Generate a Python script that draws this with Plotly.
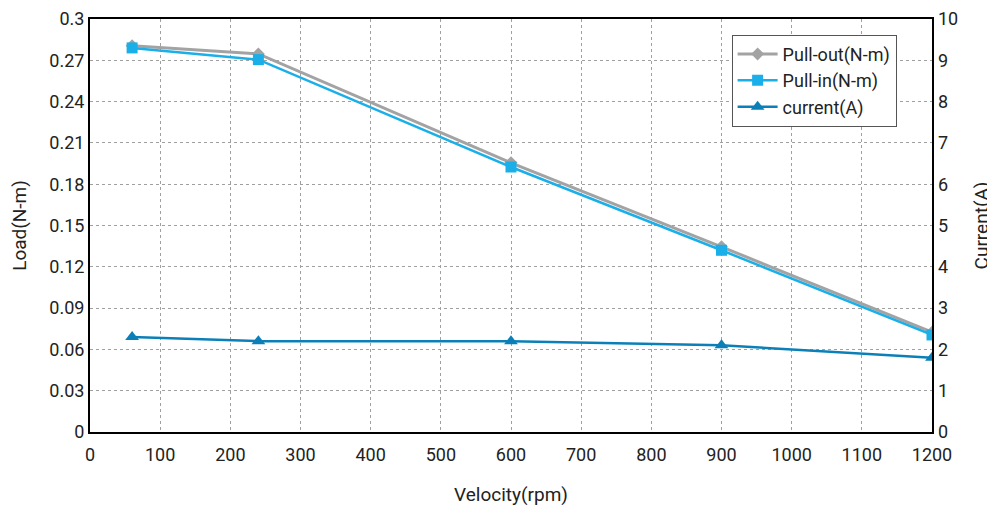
import plotly.graph_objects as go

velocity = [60, 240, 600, 900, 1200]
pull_out = [0.2805, 0.2746, 0.1955, 0.1345, 0.0725]
pull_in = [0.279, 0.2705, 0.1925, 0.132, 0.0705]
current = [2.3, 2.2, 2.2, 2.1, 1.8]

x_ticks = list(range(0, 1300, 100))
y_ticks = [0, 0.03, 0.06, 0.09, 0.12, 0.15, 0.18, 0.21, 0.24, 0.27, 0.3]
y_labels = ["0", "0.03", "0.06", "0.09", "0.12", "0.15", "0.18", "0.21", "0.24", "0.27", "0.3"]
y2_ticks = list(range(0, 11))

font_family = "Roboto, DejaVu Sans, sans-serif"

fig = go.Figure()
fig.add_trace(go.Scatter(x=velocity, y=pull_out, name="Pull-out(N-m)", mode="lines+markers",
                         line=dict(color="#A3A3A3", width=3),
                         marker=dict(symbol="diamond", size=10, color="#A3A3A3")))
fig.add_trace(go.Scatter(x=velocity, y=pull_in, name="Pull-in(N-m)", mode="lines+markers",
                         line=dict(color="#1AAFE8", width=2.5),
                         marker=dict(symbol="square", size=11, color="#1AAFE8")))
fig.add_trace(go.Scatter(x=velocity, y=current, name="current(A)", mode="lines+markers", yaxis="y2",
                         line=dict(color="#0B80B8", width=2.5),
                         marker=dict(symbol="triangle-up", size=12, color="#0B80B8")))

fig.update_layout(
    width=987, height=505,
    margin=dict(l=82, r=63, t=11, b=81),
    paper_bgcolor="white", plot_bgcolor="white",
    font=dict(family=font_family, size=18, color="#222222"),
    showlegend=True,
    legend=dict(x=0.762, y=0.962, xanchor="left", yanchor="top",
                bordercolor="#555555", borderwidth=1, bgcolor="white",
                font=dict(size=18), tracegroupgap=0, itemwidth=40),
    xaxis=dict(range=[0, 1200], tickvals=x_ticks, showgrid=True,
               gridcolor="#A0A0A0", griddash="dot", gridwidth=1,
               showline=True, linecolor="black", linewidth=2, mirror=True,
               ticks="", zeroline=False, automargin=False, ticklabelstandoff=5,
               ticklabeloverflow="allow",
               title=dict(text="Velocity(rpm)", standoff=24, font=dict(size=19))),
    yaxis=dict(range=[0, 0.3], tickvals=y_ticks, ticktext=y_labels, showgrid=True,
               gridcolor="#A0A0A0", griddash="dot", gridwidth=1,
               showline=True, linecolor="black", linewidth=2, mirror=True,
               ticks="", zeroline=False, automargin=False, ticklabeloverflow="allow",
               title=dict(text="Load(N-m)", standoff=20, font=dict(size=19))),
    yaxis2=dict(range=[0, 10], tickvals=y2_ticks, overlaying="y", side="right",
                showgrid=False, showline=False, zeroline=False, ticks="", automargin=False,
                ticklabelstandoff=5, ticklabeloverflow="allow",
                title=dict(text="Current(A)", standoff=17, font=dict(size=19))),
)

fig.write_html("out.html")
